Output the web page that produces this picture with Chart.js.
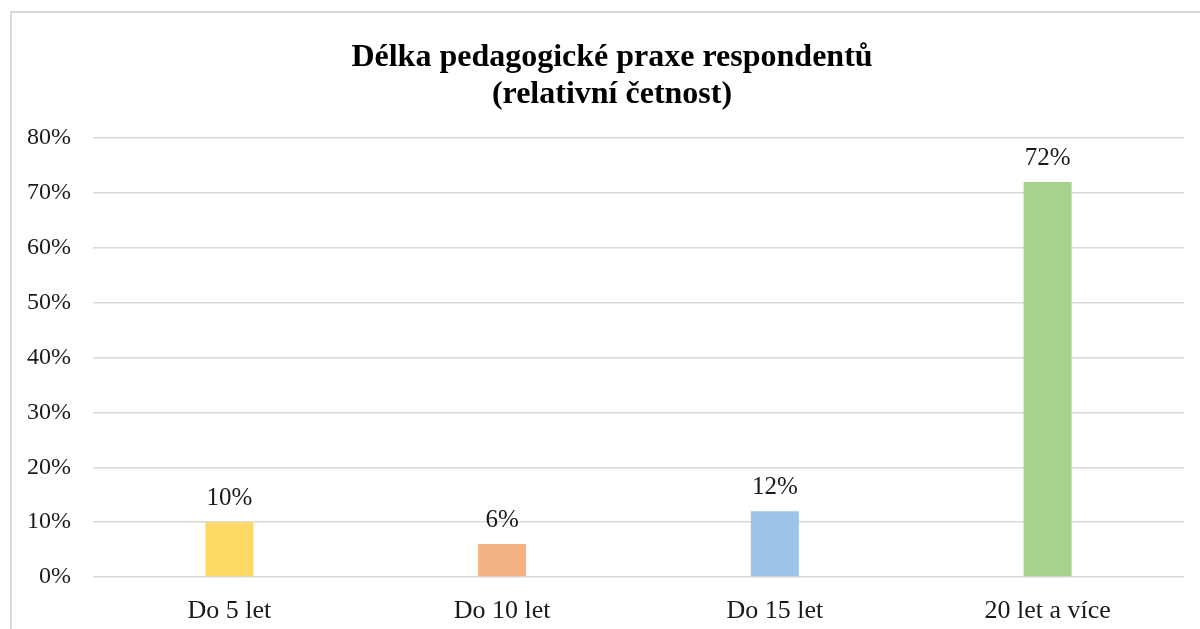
<!DOCTYPE html>
<html>
<head>
<meta charset="utf-8">
<script src="https://cdn.jsdelivr.net/npm/chart.js@4"></script>
<style>
  html, body { margin: 0; padding: 0; background: #fff; overflow: hidden; width: 1200px; height: 629px; }
  #ramec { position: absolute; left: 10px; top: 11px; width: 1204px; height: 640px; border: 2px solid #d9d9d9; box-sizing: border-box; }
  #graf { position: absolute; left: 0; top: 0; }
</style>
</head>
<body>
<div id="ramec"><canvas id="graf" width="1200" height="616"></canvas></div>
<script>
// Data grafu
const kategorie = ["Do 5 let", "Do 10 let", "Do 15 let", "20 let a více"];
const hodnoty = [10, 6, 12, 72];
const barvy = ["#FFD966", "#F4B183", "#9DC3E6", "#A9D18E"];
const nadpis = ["Délka pedagogické praxe respondentů", "(relativní četnost)"];
const osaMax = 80;
const osaKrok = 10;

const pismo = "'Liberation Serif', 'Times New Roman', serif";

// Popisky hodnot nad sloupci
const popiskyPlugin = {
  id: "popisky",
  afterDatasetsDraw(chart) {
    const ctx = chart.ctx;
    const meta = chart.getDatasetMeta(0);
    ctx.save();
    ctx.font = "25px " + pismo;
    ctx.fillStyle = "#1a1a1a";
    ctx.textAlign = "center";
    ctx.textBaseline = "alphabetic";
    meta.data.forEach((bar, i) => {
      ctx.fillText(hodnoty[i] + "%", bar.x, bar.y - 17);
    });
    ctx.restore();
  }
};

const ctx = document.getElementById("graf").getContext("2d");
new Chart(ctx, {
  type: "bar",
  data: {
    labels: kategorie,
    datasets: [{
      data: hodnoty,
      backgroundColor: barvy,
      categoryPercentage: 1,
      barPercentage: 0.176
    }]
  },
  options: {
    responsive: false,
    animation: false,
    layout: { padding: 0 },
    plugins: {
      legend: { display: false },
      tooltip: { enabled: false },
      title: {
        display: true,
        text: nadpis,
        color: "#000",
        font: { family: pismo, size: 32, weight: "bold", lineHeight: 37 / 32 },
        padding: { top: 26, bottom: 25 }
      }
    },
    scales: {
      x: {
        grid: { display: false },
        border: { display: false },
        ticks: { color: "#1a1a1a", font: { family: pismo, size: 26 }, padding: 11 },
        afterFit(scale) { scale.height = 52; }
      },
      y: {
        min: 0,
        max: osaMax,
        border: { display: false },
        grid: { color: "#d9d9d9", lineWidth: 1.5, drawTicks: false },
        ticks: {
          stepSize: osaKrok,
          padding: 22,
          color: "#1a1a1a",
          font: { family: pismo, size: 24 },
          callback: v => v + "%"
        },
        afterFit(scale) { scale.width = 81; }
      },
      // prázdná pravá osa jen jako okraj
      okraj: {
        type: "linear",
        position: "right",
        display: true,
        grid: { display: false },
        border: { display: false },
        ticks: { display: false },
        afterFit(scale) { scale.width = 28; }
      }
    }
  },
  plugins: [popiskyPlugin]
});
</script>
</body>
</html>
